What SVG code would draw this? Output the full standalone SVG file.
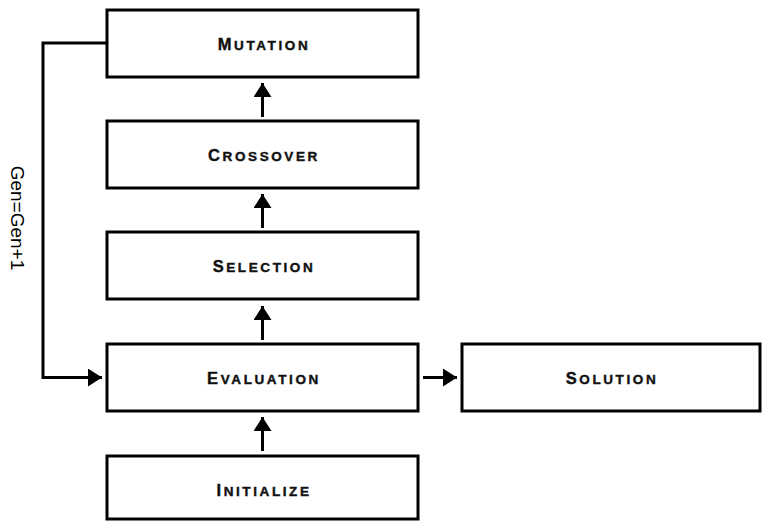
<svg xmlns="http://www.w3.org/2000/svg" width="762" height="521" viewBox="0 0 762 521">
<style>
.box{fill:#fff;stroke:#000;stroke-width:3}
.lbl{font-family:"Liberation Sans",Arial,sans-serif;font-weight:bold;fill:#111;stroke:#111;stroke-width:0.4;text-anchor:middle;letter-spacing:2.6px}
.big{font-size:16.5px}
.sm{font-size:13.5px}
.edge{fill:none;stroke:#000;stroke-width:3}
.side{font-family:"Liberation Sans",Arial,sans-serif;font-size:19px;fill:#000;text-anchor:middle}
</style>
<defs>
<marker id="ah" markerUnits="userSpaceOnUse" markerWidth="16" markerHeight="20" refX="14" refY="9" orient="auto" viewBox="0 0 16 20">
<path d="M0,0 L14,9 L0,18 Z" fill="#000"/>
</marker>
</defs>
<rect width="762" height="521" fill="#fff"/>
<g id="connectors">
<path class="edge" d="M107,43 H43 V377.5 H102" marker-end="url(#ah)"/>
<path class="edge" d="M262.5,117 V83" marker-end="url(#ah)"/>
<path class="edge" d="M262.5,228 V194" marker-end="url(#ah)"/>
<path class="edge" d="M262.5,340 V306" marker-end="url(#ah)"/>
<path class="edge" d="M262.5,451 V417" marker-end="url(#ah)"/>
<path class="edge" d="M423,377.5 H457" marker-end="url(#ah)"/>
<text class="side" transform="translate(11,218) rotate(90)">Gen=Gen+1</text>
</g>
<g id="mutation">
<rect class="box" x="107" y="10" width="311" height="67"/>
<text class="lbl" x="264" y="50"><tspan class="big">M</tspan><tspan class="sm">UTATION</tspan></text>
</g>
<g id="crossover">
<rect class="box" x="107" y="121" width="311" height="67"/>
<text class="lbl" x="264" y="161"><tspan class="big">C</tspan><tspan class="sm">ROSSOVER</tspan></text>
</g>
<g id="selection">
<rect class="box" x="107" y="232" width="311" height="67"/>
<text class="lbl" x="264" y="272"><tspan class="big">S</tspan><tspan class="sm">ELECTION</tspan></text>
</g>
<g id="evaluation">
<rect class="box" x="107" y="344" width="311" height="67"/>
<text class="lbl" x="264" y="384"><tspan class="big">E</tspan><tspan class="sm">VALUATION</tspan></text>
</g>
<g id="solution">
<rect class="box" x="462" y="344" width="298" height="67"/>
<text class="lbl" x="612" y="384"><tspan class="big">S</tspan><tspan class="sm">OLUTION</tspan></text>
</g>
<g id="initialize">
<rect class="box" x="107" y="456" width="311" height="63"/>
<text class="lbl" x="264" y="496"><tspan class="big">I</tspan><tspan class="sm">NITIALIZE</tspan></text>
</g>
</svg>
